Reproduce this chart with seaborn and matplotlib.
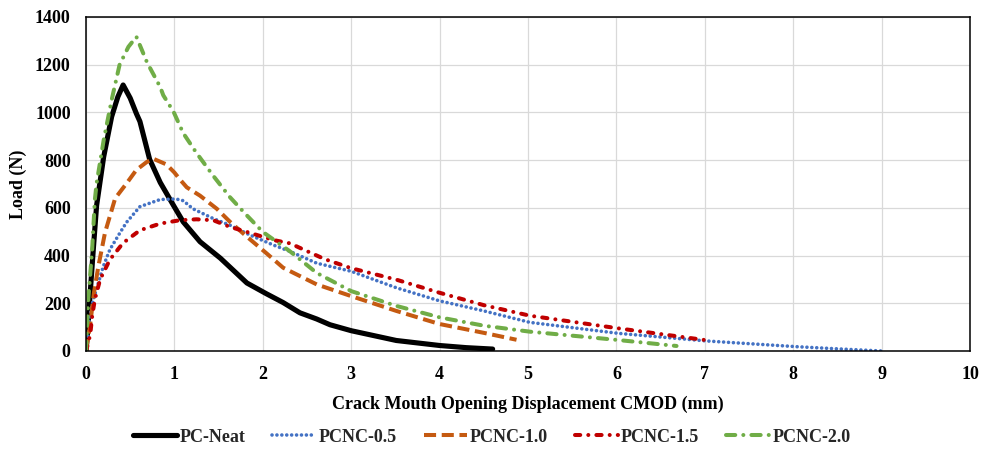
import matplotlib
matplotlib.use("Agg")
import matplotlib.pyplot as plt
import seaborn as sns
import pandas as pd

# Load vs. CMOD curves for each mix
series_names = ["PC-Neat", "PCNC-0.5", "PCNC-1.0", "PCNC-1.5", "PCNC-2.0"]

pc_neat_cmod = [0, 0.02, 0.045, 0.083, 0.12, 0.2, 0.29, 0.36, 0.42, 0.5, 0.57, 0.61,
                0.72, 0.84, 0.99, 1.1, 1.29, 1.52, 1.82, 2.04, 2.23, 2.42, 2.61, 2.76,
                3.0, 3.51, 4.0, 4.3, 4.6]
pc_neat_load = [0, 90, 230, 428, 610, 814, 982, 1065, 1115, 1060, 995, 962,
                803, 706, 610, 541, 458, 389, 285, 240, 203, 160, 134, 110,
                85, 44, 23, 14, 8]

pcnc05_cmod = [0, 0.02, 0.045, 0.083, 0.14, 0.196, 0.27, 0.385, 0.46, 0.61, 0.84, 1.02,
               1.1, 1.21, 1.44, 1.63, 1.855, 2.12, 2.31, 2.61, 3.0, 3.51, 4.0, 4.5,
               5.02, 6.02, 7.02, 8.04, 8.5, 9.0]
pcnc05_load = [0, 48, 146, 216, 286, 355, 425, 496, 540, 605, 635, 637,
               630, 596, 555, 527, 486, 444, 417, 368, 334, 265, 210, 168,
               120, 74, 42, 18, 9, 0]

pcnc10_cmod = [0, 0.045, 0.09, 0.14, 0.215, 0.33, 0.46, 0.57, 0.69, 0.76, 0.91, 1.0,
               1.06, 1.14, 1.29, 1.48, 1.63, 1.82, 2.04, 2.23, 2.61, 3.0, 3.51, 4.0,
               4.5, 4.87]
pcnc10_load = [0, 104, 244, 355, 496, 640, 703, 759, 793, 806, 782, 748,
               720, 686, 651, 596, 541, 479, 410, 349, 279, 230, 168, 113,
               76, 47]

pcnc15_cmod = [0, 0.03, 0.05, 0.07, 0.1, 0.16, 0.27, 0.42, 0.61, 0.84, 1.06, 1.25,
               1.44, 1.63, 1.82, 2.12, 2.31, 2.42, 2.7, 3.0, 3.51, 4.0, 4.5, 5.02,
               6.02, 7.02]
pcnc15_load = [0, 40, 76, 146, 216, 300, 383, 453, 506, 534, 548, 552,
               548, 520, 499, 465, 451, 432, 385, 347, 299, 244, 192, 148,
               95, 45]

pcnc20_cmod = [0, 0.026, 0.07, 0.1, 0.12, 0.2, 0.29, 0.38, 0.48, 0.57, 0.69, 0.84,
               0.874, 0.99, 1.1, 1.25, 1.44, 1.63, 1.82, 2.0, 2.31, 2.61, 3.0, 3.51,
               4.0, 4.5, 5.02, 6.02, 6.68]
pcnc20_load = [0, 217, 428, 633, 703, 884, 1052, 1200, 1275, 1317, 1210, 1106,
               1072, 1003, 913, 830, 734, 644, 568, 499, 417, 327, 251, 189,
               141, 106, 81, 46, 21]

x_ticks = list(range(0, 11))
y_ticks = list(range(0, 1401, 200))

curves = [
    (pc_neat_cmod, pc_neat_load),
    (pcnc05_cmod, pcnc05_load),
    (pcnc10_cmod, pcnc10_load),
    (pcnc15_cmod, pcnc15_load),
    (pcnc20_cmod, pcnc20_load),
]

# line appearance per mix: colour, width, dash pattern, cap style
styles = [
    dict(color="#000000", lw=3.7, dashes=None, cap="round"),
    dict(color="#4472C4", lw=2.6, dashes=(0.01, 1.35), cap="round"),
    dict(color="#C55A11", lw=2.9, dashes=(3.0, 1.4), cap="butt"),
    dict(color="#C00000", lw=2.9, dashes=(1.3, 2.0, 0.01, 2.0), cap="round"),
    dict(color="#70AD47", lw=2.9, dashes=(2.3, 2.0, 0.01, 2.0), cap="round"),
]

sns.set_theme(style="white")
plt.rcParams["font.family"] = ["Liberation Serif", "DejaVu Serif"]
plt.rcParams["font.weight"] = "bold"

fig = plt.figure(figsize=(9.84, 4.53), dpi=100)
ax = fig.add_axes([0.0874, 0.2252, 0.8984, 0.7373])

for name, (xs, ys), st in zip(series_names, curves, styles):
    df = pd.DataFrame({"CMOD": xs, "Load": ys})
    sns.lineplot(data=df, x="CMOD", y="Load", ax=ax, sort=False,
                 estimator=None, color=st["color"], linewidth=st["lw"], label=name)
    line = ax.lines[-1]
    if st["dashes"] is not None:
        line.set_dashes(st["dashes"])
    line.set_dash_capstyle(st["cap"])
    line.set_solid_capstyle("round")
    line.set_solid_joinstyle("round")

ax.set_xlim(0, 10)
ax.set_ylim(0, 1400)
ax.set_xticks(x_ticks)
ax.set_yticks(y_ticks)
ax.grid(True, color="#d9d9d9", linewidth=0.9)
ax.set_axisbelow(True)
for sp in ax.spines.values():
    sp.set_color("#000000")
    sp.set_linewidth(1.1)
ax.tick_params(axis="both", length=0, labelsize=13, colors="#000000")
ax.tick_params(axis="x", pad=11)
ax.tick_params(axis="y", pad=11)
for lbl in ax.get_xticklabels() + ax.get_yticklabels():
    lbl.set_fontweight("bold")

ax.set_xlabel("Crack Mouth Opening Displacement CMOD (mm)", fontsize=13,
              fontweight="bold", labelpad=9, color="#000000")
ax.set_ylabel("Load (N)", fontsize=13, fontweight="bold", labelpad=6, color="#000000")

handles, labels = ax.get_legend_handles_labels()
ax.get_legend().remove()
fig.legend(handles, labels, loc="center", bbox_to_anchor=(0.5, 0.035), ncol=5,
           frameon=False, handlelength=2.4, handletextpad=0.15,
           columnspacing=1.5, prop={"weight": "bold", "size": 13})

fig.savefig("out.png", dpi=100)
